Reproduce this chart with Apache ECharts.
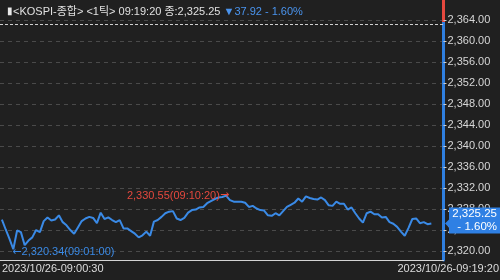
<!DOCTYPE html>
<html><head><meta charset="utf-8">
<script src="https://cdn.jsdelivr.net/npm/echarts@6/dist/echarts.min.js"></script>
<style>html,body{margin:0;padding:0;background:#202020}#c{width:500px;height:280px}</style>
</head><body><div id="c"></div>
<script>
// KOSPI tick values, one every 10 seconds from 09:00:30
const startTime = '09:00:30';
const stepSeconds = 10;
const values = [
  2326.0, 2324.1, 2322.3, 2320.34, 2323.9, 2323.6, 2321.1, 2322.0, 2322.6, 2324.0,
  2323.6, 2325.7, 2326.4, 2325.8, 2326.0, 2326.8, 2325.5, 2324.9, 2324.0, 2323.3,
  2324.5, 2325.7, 2326.2, 2326.5, 2326.3, 2325.3, 2327.3, 2326.1, 2326.4, 2325.9,
  2325.5, 2325.9, 2324.3, 2324.3, 2323.8, 2323.3, 2322.6, 2323.0, 2323.7, 2322.9,
  2325.6, 2325.9, 2326.5, 2327.2, 2327.5, 2327.6, 2326.2, 2325.9, 2326.3, 2327.3,
  2327.8, 2327.9, 2328.3, 2328.4, 2329.1, 2329.5, 2329.9, 2330.2, 2330.3, 2330.55,
  2329.7, 2329.4, 2329.4, 2329.4, 2329.2, 2328.4, 2328.6, 2328.1, 2327.8, 2327.7,
  2326.8, 2326.7, 2327.2, 2326.8, 2327.6, 2328.4, 2328.8, 2329.2, 2330.0, 2329.4,
  2330.4, 2330.1, 2329.9, 2329.8, 2330.2, 2329.7, 2328.7, 2328.6, 2329.4, 2329.0,
  2329.0, 2327.9, 2328.3, 2327.2, 2326.2, 2325.4, 2327.2, 2327.5, 2327.0, 2327.0,
  2326.4, 2326.5, 2325.5, 2325.2, 2324.6, 2323.7, 2322.9, 2324.4, 2326.1, 2326.2,
  2325.3, 2325.5, 2325.1, 2325.25
];
const yTicks = [2320, 2324, 2328, 2332, 2336, 2340, 2344, 2348, 2352, 2356, 2360, 2364];
const xLabels = ['2023/10/26-09:00:30', '2023/10/26-09:19:20'];
const prevClose = 2363.17;
const lastValue = 2325.25;
const change = 37.92;
const changePct = 1.60;
const titleName = '<KOSPI-종합> <1틱> 09:19:20 종:';

const yMin = 2318.29, yMax = 2367.81;
const xMin = -5, xMax = 1162;

const fmt = v => v.toLocaleString('en-US', {minimumFractionDigits: 2, maximumFractionDigits: 2});
function timeAt(i) {
  const p = startTime.split(':').map(Number);
  let s = p[0] * 3600 + p[1] * 60 + p[2] + i * stepSeconds;
  const h = Math.floor(s / 3600), m = Math.floor((s % 3600) / 60), ss = s % 60;
  return [h, m, ss].map(n => String(n).padStart(2, '0')).join(':');
}
const iMax = values.indexOf(Math.max(...values));
const iMin = values.indexOf(Math.min(...values));
const RED = '#e5483e', BLUE = '#3a8ae6';
const FONT = 'Liberation Sans, Noto Sans CJK KR, sans-serif';
const redStop = (yMax - prevClose) / (yMax - yMin);

const chart = echarts.init(document.getElementById('c'));
const dateLabels = [
  {type: 'text', left: 2, top: 263, style: {text: xLabels[0], fill: '#dcdcdc', fontSize: 11, fontFamily: FONT}},
  {type: 'text', right: 1, top: 263, style: {text: xLabels[1], fill: '#dcdcdc', fontSize: 11, fontFamily: FONT}}
];
chart.setOption({
  backgroundColor: '#202020',
  animation: false,
  title: {
    left: 2, top: 1,
    text: '{bar|▮}{w|' + titleName + fmt(lastValue) + ' }{b|▼' + change.toFixed(2) + ' - ' + changePct.toFixed(2) + '%}',
    textStyle: {
      fontWeight: 'normal',
      rich: {
        bar: {color: '#e8e8e8', fontSize: 10, fontFamily: FONT, fontWeight: 'normal'},
        w: {color: '#e0e0e0', fontSize: 11, fontFamily: FONT, fontWeight: 'normal'},
        b: {color: '#4a94ee', fontSize: 11, fontFamily: FONT, fontWeight: 'normal'}
      }
    }
  },
  grid: {left: 0, right: 56.5, top: 0, bottom: 20},
  xAxis: {
    type: 'value', min: xMin, max: xMax,
    axisLine: {show: true, onZero: false, lineStyle: {color: '#d4d4d4', width: 1}},
    axisTick: {show: false}, axisLabel: {show: false}, splitLine: {show: false}
  },
  yAxis: {
    type: 'value', position: 'right', min: yMin, max: yMax,
    axisLine: {show: true, onZero: false, lineStyle: {width: 3, color: new echarts.graphic.LinearGradient(0, 0, 0, 1, [
      {offset: 0, color: RED}, {offset: redStop, color: RED},
      {offset: redStop, color: '#2f7fe0'}, {offset: 1, color: '#2f7fe0'}])}},
    axisTick: {show: true, length: 3, customValues: yTicks, lineStyle: {color: '#cfcfcf'}},
    axisLabel: {customValues: yTicks, color: '#d6d6d6', fontSize: 11, fontFamily: FONT, margin: 4,
      formatter: v => fmt(v)},
    splitLine: {show: true, lineStyle: {color: '#4a4a4a', type: [4, 4]}}
  },
  series: [{
    type: 'line',
    data: values.map((v, i) => [i * stepSeconds, v]),
    showSymbol: false, symbol: 'none',
    lineStyle: {color: BLUE, width: 2},
    markLine: {
      silent: true, symbol: 'none', animation: false,
      label: {show: false},
      lineStyle: {color: '#d0d0d0', type: [3, 2], width: 1},
      data: [{yAxis: prevClose}]
    },
    markPoint: {
      symbol: 'circle', symbolSize: 0,
      data: [
        {coord: [iMax * stepSeconds, values[iMax]],
         label: {show: true, position: 'left', distance: 0, offset: [3, 0], color: RED, fontSize: 11, fontFamily: FONT,
           formatter: fmt(values[iMax]) + '(' + timeAt(iMax) + '){a|→}',
           rich: {a: {fontFamily: 'DejaVu Sans', fontSize: 11, color: RED}}}},
        {coord: [iMin * stepSeconds, values[iMin]],
         label: {show: true, position: 'right', distance: 0, offset: [-1, 3], color: BLUE, fontSize: 11, fontFamily: FONT,
           formatter: '{a|←}' + fmt(values[iMin]) + '(' + timeAt(iMin) + ')',
           rich: {a: {fontFamily: 'DejaVu Sans', fontSize: 11, color: BLUE}}}}
      ]
    }
  }],
  graphic: dateLabels
});

// current-value tag on the price axis
const yc = chart.convertToPixel({yAxisIndex: 0}, lastValue);
const tagTop = yc - 16, tagBottom = yc + 10, tagL = 449, tagR = 500;
chart.setOption({
  graphic: dateLabels.concat([
    {type: 'polygon', z: 10, shape: {points: [[445, yc], [tagL, yc - 4], [tagL, tagTop], [tagR, tagTop], [tagR, tagBottom], [tagL, tagBottom], [tagL, yc + 4]]},
     style: {fill: '#2f80e4'}},
    {type: 'text', z: 11, x: 497, y: tagTop + 6.5, style: {text: fmt(lastValue), fill: '#ffffff', fontSize: 11.5, fontFamily: FONT, align: 'right', verticalAlign: 'middle'}},
    {type: 'text', z: 11, x: 497, y: tagTop + 19.5, style: {text: '- ' + changePct.toFixed(2) + '%', fill: '#ffffff', fontSize: 11.5, fontFamily: FONT, align: 'right', verticalAlign: 'middle'}}
  ])
});
</script></body></html>
